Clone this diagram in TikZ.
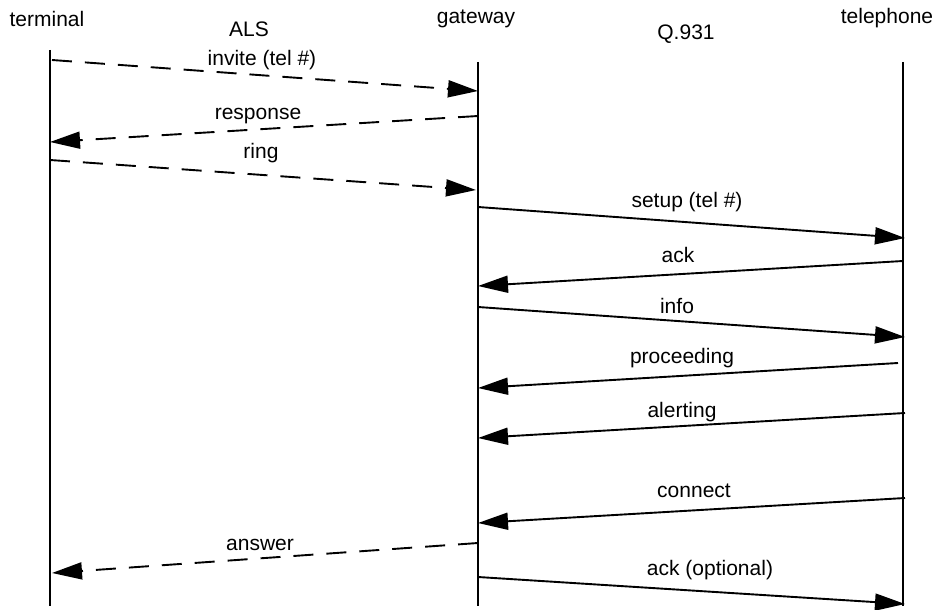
\documentclass[tikz,border=0pt]{standalone}
\usepackage{fontspec}
\setmainfont{Liberation Sans}
\usetikzlibrary{arrows.meta}
\begin{document}
\begin{tikzpicture}[x=1pt,y=-1pt,
  lifeline/.style={line width=2pt},
  msg/.style={line width=1.9pt,-{Triangle[length=30pt,width=17pt]}},
  dmsg/.style={msg,dash pattern=on 20pt off 13pt},
  lbl/.style={font=\fontsize{21pt}{24pt}\selectfont,inner sep=0pt,anchor=base},
  hdr/.style={lbl}]
\useasboundingbox (0,0) rectangle (934,610);
% headers
\node[hdr] (terminal) at (47,27) {terminal};
\node[hdr] (als) at (249,37) {ALS};
\node[hdr] (gateway) at (476,24) {gateway};
\node[hdr] (q931) at (686,40) {Q.931};
\node[hdr] (telephone) at (887,24) {telephone};
% lifelines
\coordinate (tT) at (50,50);  \coordinate (tB) at (50,606);
\coordinate (gT) at (478,62); \coordinate (gB) at (478,606);
\coordinate (pT) at (903,62); \coordinate (pB) at (903,606);
\draw[lifeline] (tT) -- (tB);
\draw[line width=1.5pt] (gT) -- (gB);
\draw[lifeline] (pT) -- (pB);
% message endpoints
\coordinate (m1s) at (52,60);   \coordinate (m1e) at (478,91);
\coordinate (m2s) at (478,116); \coordinate (m2e) at (50,142);
\coordinate (m3s) at (50,160);  \coordinate (m3e) at (476,190);
\coordinate (m4s) at (478,207); \coordinate (m4e) at (905,238);
\coordinate (m5s) at (903,261); \coordinate (m5e) at (478,286);
\coordinate (m6s) at (478,307); \coordinate (m6e) at (905,337);
\coordinate (m7s) at (898,363); \coordinate (m7e) at (478,388);
\coordinate (m8s) at (905,413); \coordinate (m8e) at (478,438);
\coordinate (m9s) at (905,498); \coordinate (m9e) at (478,523);
\coordinate (m10s) at (478,543); \coordinate (m10e) at (52,573);
\coordinate (m11s) at (478,577); \coordinate (m11e) at (905,604);
% messages
\draw[dmsg] (m1s) -- (m1e);
\draw[dmsg] (m2s) -- (m2e);
\draw[dmsg] (m3s) -- (m3e);
\draw[msg] (m4s) -- (m4e);
\draw[msg] (m5s) -- (m5e);
\draw[msg] (m6s) -- (m6e);
\draw[msg] (m7s) -- (m7e);
\draw[msg] (m8s) -- (m8e);
\draw[msg] (m9s) -- (m9e);
\draw[dmsg] (m10s) -- (m10e);
\draw[msg] (m11s) -- (m11e);
% labels
\node[lbl] (l1) at (262,66) {invite (tel \#)};
\node[lbl] (l2) at (258,119) {response};
\node[lbl] (l3) at (261,158) {ring};
\node[lbl] (l4) at (687,207) {setup (tel \#)};
\node[lbl] (l5) at (678,262) {ack};
\node[lbl] (l6) at (677,313) {info};
\node[lbl] (l7) at (682,363) {proceeding};
\node[lbl] (l8) at (682,417) {alerting};
\node[lbl] (l9) at (694,497) {connect};
\node[lbl] (l10) at (260,550) {answer};
\node[lbl] (l11) at (710,575) {ack (optional)};
\end{tikzpicture}
\end{document}
